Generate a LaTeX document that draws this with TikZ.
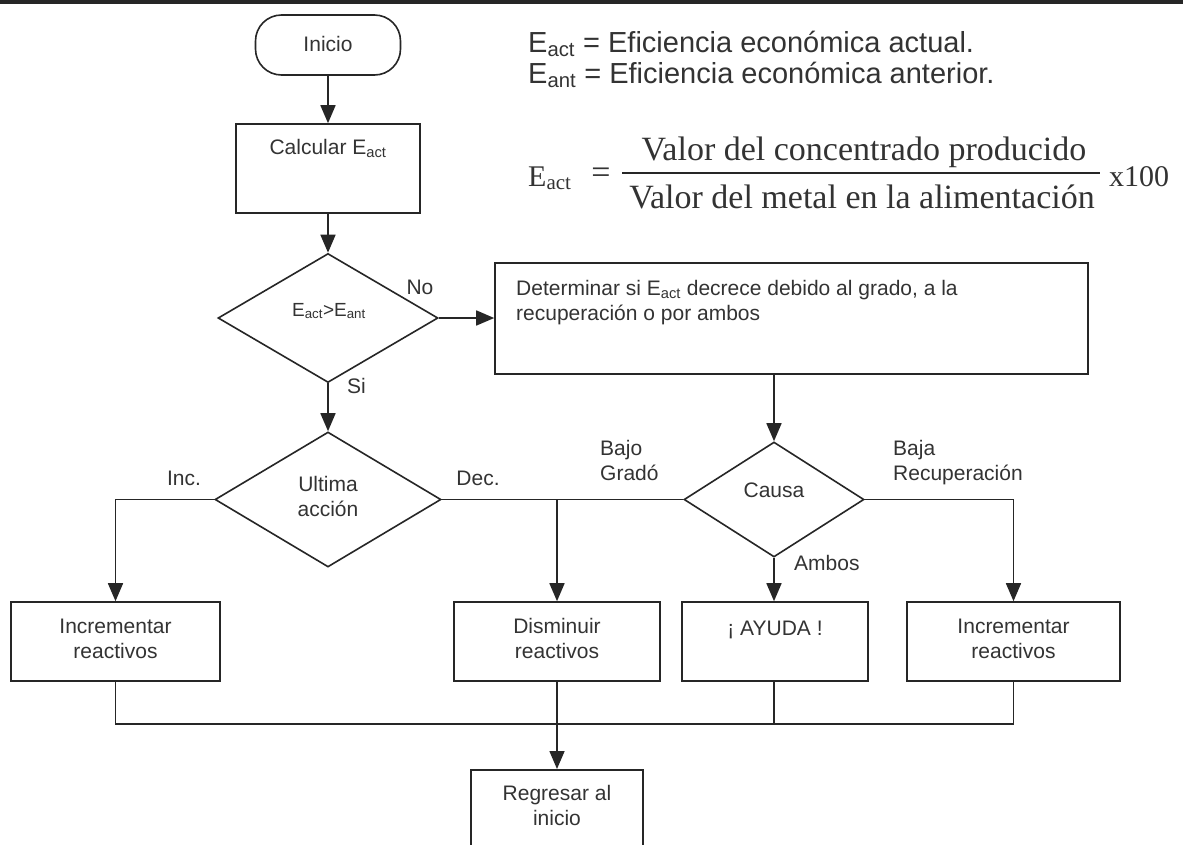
\documentclass[tikz,border=0pt]{standalone}
\usepackage{fontspec}
\setmainfont{Liberation Sans}
\newfontfamily\serifface{Liberation Serif}
\usetikzlibrary{arrows.meta,shapes.geometric}
\definecolor{ink}{HTML}{262626}
\definecolor{txt}{HTML}{333333}
\newcommand{\sbs}[1]{\textsubscript{#1}}

\begin{document}
\begin{tikzpicture}[x=1pt,y=-1pt,
  flow/.style={draw=ink, line width=1.6pt},
  arr/.style={flow, -{Triangle[length=18pt,width=15pt]}},
  box/.style={draw=ink, line width=1.6pt, rectangle, inner sep=0pt},
  term/.style={box, rounded corners=26pt},
  dec/.style={draw=ink, line width=1.6pt, diamond, inner sep=0pt},
  lbl/.style={text=txt, font=\fontsize{21}{25}\selectfont, inner sep=0pt, align=center},
  lbll/.style={lbl, align=left},
  legend/.style={text=txt, font=\fontsize{29}{34}\selectfont, inner sep=0pt, anchor=base west},
  fml/.style={text=txt, font=\serifface\fontsize{34}{38}\selectfont, inner sep=0pt}]

\useasboundingbox (0,0) rectangle (1183,844);
\clip (0,0) rectangle (1183,844);
\fill[white] (0,0) rectangle (1183,844);

% heading rule
\draw[ink, line width=4pt] (0,2) -- (1183,2);

% legend
\node[legend] (leg1) at (528,52) {E\sbs{act} = Eficiencia económica actual.};
\node[legend] (leg2) at (528,83) {E\sbs{ant} = Eficiencia económica anterior.};

% formula
\node[fml, anchor=base west, font=\serifface\fontsize{30}{36}\selectfont] (f-lhs) at (528,186) {E\sbs{act}};
\node[fml, anchor=base] (f-eq) at (601,183) {=};
\node[fml, anchor=base] (f-num) at (864,160) {Valor del concentrado producido};
\node[fml, anchor=base] (f-den) at (862,208) {Valor del metal en la alimentación};
\draw[ink, line width=1.2pt] (622,173) -- (1100,173);
\node[fml, anchor=base west, font=\serifface\fontsize{30}{36}\selectfont] (f-x) at (1109,186) {x100};

% flowchart shapes
\node[term, minimum width=145pt, minimum height=60pt] (inicio) at (328,45) {};
\node[box, minimum width=184pt, minimum height=89pt] (calc) at (328,168.5) {};
\node[dec, minimum width=220pt, minimum height=129pt] (d1) at (328,318) {};
\node[box, minimum width=593pt, minimum height=111pt] (det) at (791.5,318.5) {};
\node[dec, minimum width=226pt, minimum height=135pt] (d2) at (328,499.5) {};
\node[dec, minimum width=180pt, minimum height=115pt] (causa) at (774,499.5) {};
\node[box, minimum width=209pt, minimum height=79pt] (inc1) at (115.5,641.5) {};
\node[box, minimum width=206pt, minimum height=79pt] (dism) at (557,641.5) {};
\node[box, minimum width=186pt, minimum height=79pt] (ayuda) at (775,641.5) {};
\node[box, minimum width=213pt, minimum height=79pt] (inc2) at (1013.5,641.5) {};
\node[box, minimum width=172pt, minimum height=110pt, anchor=north] (regr) at (557,769) {};

% texts (multi-line nodes sit on the baseline of their last line)
\node[lbl, anchor=base] (t-inicio) at (328,51) {Inicio};
\node[lbl, anchor=base] (t-calc) at (328,154) {Calcular E\sbs{act}};
\node[lbl, anchor=base, font=\fontsize{19}{23}\selectfont] (t-d1) at (329,316) {E\sbs{act}>E\sbs{ant}};
\node[lbl, anchor=base] (t-no) at (420,294) {No};
\node[lbl, anchor=base west] (t-si) at (347,393) {Si};
\node[lbll, anchor=base west] (t-det) at (516,320) {Determinar si E\sbs{act} decrece debido al grado, a la\\recuperación o por ambos};
\node[lbl, anchor=base] (t-d2) at (328,516) {Ultima\\acción};
\node[lbl, anchor=base] (t-inc) at (184,485) {Inc.};
\node[lbl, anchor=base] (t-dec) at (478,485) {Dec.};
\node[lbl, anchor=base] (t-causa) at (774,497) {Causa};
\node[lbll, anchor=base west] (t-bajo) at (600,480) {Bajo\\Gradó};
\node[lbll, anchor=base west] (t-baja) at (893,480) {Baja\\Recuperación};
\node[lbl, anchor=base west] (t-ambos) at (794,570) {Ambos};
\node[lbl, anchor=base] (t-inc1) at (115.5,658) {Incrementar\\reactivos};
\node[lbl, anchor=base] (t-dism) at (557,658) {Disminuir\\reactivos};
\node[lbl, anchor=base] (t-ayuda) at (775,635) {¡ AYUDA !};
\node[lbl, anchor=base] (t-inc2) at (1013.5,658) {Incrementar\\reactivos};
\node[lbl, anchor=base] (t-regr) at (557,825) {Regresar al\\inicio};

% connectors
\coordinate (join) at (557,724);
\draw[arr] (inicio.south) -- (calc.north);
\draw[arr] (calc.south) -- (d1.north);
\draw[arr] (d1.east) -- (d1.east -| det.west);
\draw[arr] (d1.south) -- (d2.north);
\draw[arr] (causa.north |- det.south) -- (causa.north);
\draw[arr] (d2.west) -| (inc1.north);
\draw[flow] (d2.east) -- (causa.west);
\draw[arr] (dism.north |- d2.east) -- (dism.north);
\draw[arr] (causa.south) -- (causa.south |- ayuda.north);
\draw[arr] (causa.east) -| (inc2.north);
\draw[flow] (inc1.south) |- (inc2.south |- join) -- (inc2.south);
\draw[flow] (causa.south |- ayuda.south) -- (causa.south |- join);
\draw[arr] (dism.south) -- (regr.north);
\end{tikzpicture}
\end{document}
